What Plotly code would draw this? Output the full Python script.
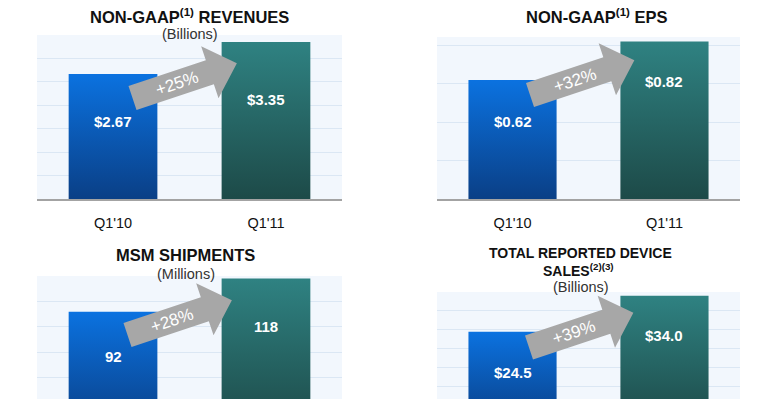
import math
import plotly.graph_objects as go

W, H = 780, 399
FONT = "Liberation Sans, Arial, Helvetica, sans-serif"

# ---------------- data ----------------
categories = ["Q1'10", "Q1'11"]
rev_values = [2.67, 3.35]
rev_labels = ["$2.67", "$3.35"]
eps_values = [0.62, 0.82]
eps_labels = ["$0.62", "$0.82"]
msm_values = [92, 118]
msm_labels = ["92", "118"]
dev_values = [24.5, 34.0]
dev_labels = ["$24.5", "$34.0"]
growth_labels = ["+25%", "+32%", "+28%", "+39%"]

# ---------------- styles ----------------
BLUE = ["#0a3f86", "#0b72e0"]   # bottom, top
TEAL = ["#1d4a48", "#2f8282"]
ARROW = "#a7a7a7"
GRID = "#dbe7f4"
BG = "#f2f7fd"

panels = [
    dict(name="rev", values=rev_values, labels=rev_labels, xdom=(37, 342), ydom=(35, 199),
         yrange=[0, 3.5], dtick=0.5, show_x=True, label_off=[48, 57],
         titles=[("<b>NON-GAAP<sup>(1)</sup> REVENUES</b>", 16, 16.5, 0), ("(Billions)", 34, 14.5, 0)],
         arrow_tail=(132.5, 98), growth=growth_labels[0]),
    dict(name="eps", values=eps_values, labels=eps_labels, xdom=(437, 740), ydom=(37, 199),
         yrange=[0, 0.844], dtick=0.2, show_x=True, label_off=[42, 40],
         titles=[("<b>NON-GAAP<sup>(1)</sup> EPS</b>", 16, 16.5, 8)],
         arrow_tail=(530, 95), growth=growth_labels[1]),
    dict(name="msm", values=msm_values, labels=msm_labels, xdom=(37, 342), ydom=(276, 399),
         yrange=[23.5, 120], dtick=20, show_x=False, label_off=[45, 48],
         titles=[("<b>MSM SHIPMENTS</b>", 255, 16.5, -4), ("(Millions)", 274, 14.5, -4)],
         arrow_tail=(127.5, 335), growth=growth_labels[2]),
    dict(name="dev", values=dev_values, labels=dev_labels, xdom=(437, 740), ydom=(292, 399),
         yrange=[6.8, 35], dtick=5, show_x=False, label_off=[41, 40],
         titles=[("<b>TOTAL REPORTED DEVICE</b>", 253, 14, -8),
                 ("<b>SALES<sup>(2)(3)</sup></b>", 270, 14, -10),
                 ("(Billions)", 287, 14.5, -8)],
         arrow_tail=(529, 347.5), growth=growth_labels[3]),
]

BAR_W = 0.58
ANGLE = 18.4  # degrees, arrow tilt

fig = go.Figure()
annotations = []
shapes = []


def px2paper(x, y):
    return x / W, 1 - y / H


for k, p in enumerate(panels):
    ax = "" if k == 0 else str(k + 1)
    xa, ya = "x" + ax, "y" + ax
    for i, v in enumerate(p["values"]):
        cols = BLUE if i == 0 else TEAL
        fig.add_trace(go.Scatter(
            x=[i - BAR_W / 2, i + BAR_W / 2, i + BAR_W / 2, i - BAR_W / 2, i - BAR_W / 2],
            y=[0, 0, v, v, 0],
            mode="lines", line=dict(width=0), fill="toself",
            fillgradient=dict(type="vertical", colorscale=[[0, cols[0]], [1, cols[1]]],
                              start=0, stop=v),
            xaxis=xa, yaxis=ya, hoverinfo="skip", showlegend=False))
        annotations.append(dict(
            x=i, y=v, xref=xa, yref=ya, text="<b>%s</b>" % p["labels"][i],
            showarrow=False, xanchor="center", yanchor="middle", yshift=-p["label_off"][i],
            font=dict(family=FONT, size=15, color="white")))

    x0, x1 = p["xdom"]
    y0, y1 = p["ydom"]
    fig.update_layout(**{
        ("xaxis" + ax): dict(domain=[x0 / W, x1 / W], range=[-0.497, 1.497],
                             tickvals=[0, 1], ticktext=categories,
                             showticklabels=p["show_x"], showline=p["show_x"],
                             linecolor="#a3a3a3", linewidth=2, showgrid=False,
                             zeroline=False, ticks="", ticklabelstandoff=10,
                             tickfont=dict(family=FONT, size=14.5, color="#111"),
                             anchor=ya, fixedrange=True),
        ("yaxis" + ax): dict(domain=[1 - y1 / H, 1 - y0 / H], range=p["yrange"],
                             dtick=p["dtick"], showticklabels=False, showgrid=True,
                             gridcolor=GRID, gridwidth=1, zeroline=False,
                             anchor=xa, fixedrange=True),
    })

    cx = (x0 + x1) / 2
    for text, ty, size, dx in p["titles"]:
        xp, yp = px2paper(cx + dx, ty)
        is_bold = text.startswith("<b>")
        annotations.append(dict(x=xp, y=yp, xref="paper", yref="paper", text=text,
                                showarrow=False, xanchor="center", yanchor="middle",
                                font=dict(family=FONT, size=size,
                                          color="#111" if is_bold else "#333")))

    # growth arrow
    a = math.radians(ANGLE)
    d = (math.cos(a), -math.sin(a))
    n = (-math.sin(a), -math.cos(a))
    tx, ty = p["arrow_tail"]
    local = [(0, 12.7), (81.5, 12.7), (81.5, 27.5), (110, 0),
             (81.5, -27.5), (81.5, -12.7), (0, -12.7)]
    pts = []
    for u, vv in local:
        px = tx + u * d[0] + vv * n[0]
        py = ty + u * d[1] + vv * n[1]
        pts.append(px2paper(px, py))
    path = "M " + " L ".join("%.5f,%.5f" % q for q in pts) + " Z"
    shapes.append(dict(type="path", path=path, xref="paper", yref="paper",
                       fillcolor=ARROW, line=dict(width=0), layer="above"))
    lx = tx + 47 * d[0]
    ly = ty + 47 * d[1]
    xp, yp = px2paper(lx, ly)
    annotations.append(dict(x=xp, y=yp, xref="paper", yref="paper", text=p["growth"],
                            showarrow=False, textangle=-ANGLE,
                            xanchor="center", yanchor="middle",
                            font=dict(family=FONT, size=17, color="white")))

fig.update_layout(
    width=W, height=H,
    margin=dict(l=0, r=0, t=0, b=0),
    paper_bgcolor="white", plot_bgcolor=BG,
    annotations=annotations, shapes=shapes,
    showlegend=False,
)

fig.write_html("out.html", config={"displayModeBar": False},
               post_script="document.body.style.margin='0';document.body.style.overflow='hidden';")
